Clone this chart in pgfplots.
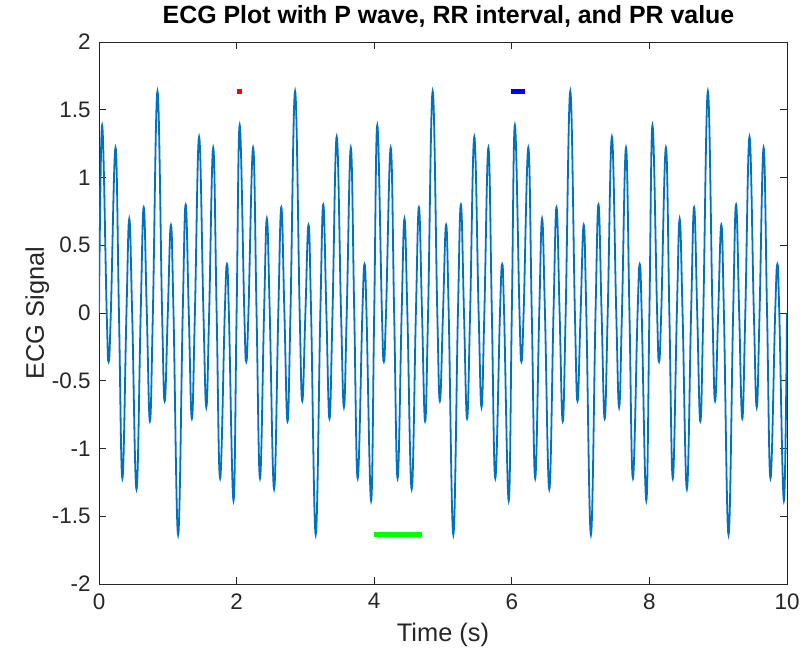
\documentclass[border=0pt]{standalone}
\usepackage{fontspec}
\setmainfont{Liberation Sans}
\usepackage{pgfplots}
\pgfplotsset{compat=1.18}
\usetikzlibrary{calc}
\definecolor{mlblue}{RGB}{0,114,189}
\definecolor{mlgray}{RGB}{38,38,38}

\begin{document}
\begin{tikzpicture}
\begin{axis}[
  name=ax,
  width=688bp, height=542bp, scale only axis,
  xmin=0, xmax=10, ymin=-2, ymax=2,
  xtick={0,2,4,6,8,10},
  ytick={-2,-1.5,-1,-0.5,0,0.5,1,1.5,2},
  tick align=inside, major tick length=7bp,
  axis line style={mlgray, line width=0.8bp},
  tick style={mlgray, line width=0.8bp},
  /pgf/number format/assume math mode=true,
  tick label style={font=\fontsize{22.5}{27}\selectfont, text=mlgray},
  yticklabel style={xshift=-5bp},
  xticklabel style={yshift=-6bp},
  title={ECG Plot with P wave, RR interval, and PR value},
  title style={font=\bfseries\fontsize{25}{30}\selectfont,
               at={(axis description cs:0.508,1.024)}, anchor=base},
  xlabel={Time (s)},
  xlabel style={font=\fontsize{25.5}{30}\selectfont, text=mlgray,
                at={(axis description cs:0.5,-0.107)}, anchor=base},
  ylabel={ECG Signal},
  ylabel style={font=\fontsize{25.5}{30}\selectfont, text=mlgray,
                at={(axis description cs:-0.08,0.5)}, anchor=base},
]
% signal: extrema and zero crossings, period of 2 s
\addplot[mlblue, line width=1.8bp, smooth, tension=0.7] coordinates {
 (0.000,0) (0.045,1.385) (0.112,0) (0.140,-0.36) (0.172,0) (0.240,1.22) (0.290,0) (0.340,-1.22)
 (0.399,0) (0.440,0.695) (0.482,0) (0.545,-1.30) (0.606,0) (0.650,0.78) (0.695,0) (0.740,-0.80)
 (0.783,0) (0.850,1.636) (0.917,0) (0.955,-0.65) (1.000,0) (1.045,0.65) (1.083,0) (1.150,-1.636)
 (1.217,0) (1.260,0.80) (1.305,0) (1.350,-0.78) (1.394,0) (1.455,1.30) (1.518,0) (1.560,-0.695)
 (1.601,0) (1.660,1.22) (1.710,0) (1.760,-1.22) (1.828,0) (1.860,0.36) (1.888,0) (1.955,-1.385)
 (2.000,0) (2.045,1.385) (2.112,0) (2.140,-0.36) (2.172,0) (2.240,1.22) (2.290,0) (2.340,-1.22)
 (2.399,0) (2.440,0.695) (2.482,0) (2.545,-1.30) (2.606,0) (2.650,0.78) (2.695,0) (2.740,-0.80)
 (2.783,0) (2.850,1.636) (2.917,0) (2.955,-0.65) (3.000,0) (3.045,0.65) (3.083,0) (3.150,-1.636)
 (3.217,0) (3.260,0.80) (3.305,0) (3.350,-0.78) (3.394,0) (3.455,1.30) (3.518,0) (3.560,-0.695)
 (3.601,0) (3.660,1.22) (3.710,0) (3.760,-1.22) (3.828,0) (3.860,0.36) (3.888,0) (3.955,-1.385)
 (4.000,0) (4.045,1.385) (4.112,0) (4.140,-0.36) (4.172,0) (4.240,1.22) (4.290,0) (4.340,-1.22)
 (4.399,0) (4.440,0.695) (4.482,0) (4.545,-1.30) (4.606,0) (4.650,0.78) (4.695,0) (4.740,-0.80)
 (4.783,0) (4.850,1.636) (4.917,0) (4.955,-0.65) (5.000,0) (5.045,0.65) (5.083,0) (5.150,-1.636)
 (5.217,0) (5.260,0.80) (5.305,0) (5.350,-0.78) (5.394,0) (5.455,1.30) (5.518,0) (5.560,-0.695)
 (5.601,0) (5.660,1.22) (5.710,0) (5.760,-1.22) (5.828,0) (5.860,0.36) (5.888,0) (5.955,-1.385)
 (6.000,0) (6.045,1.385) (6.112,0) (6.140,-0.36) (6.172,0) (6.240,1.22) (6.290,0) (6.340,-1.22)
 (6.399,0) (6.440,0.695) (6.482,0) (6.545,-1.30) (6.606,0) (6.650,0.78) (6.695,0) (6.740,-0.80)
 (6.783,0) (6.850,1.636) (6.917,0) (6.955,-0.65) (7.000,0) (7.045,0.65) (7.083,0) (7.150,-1.636)
 (7.217,0) (7.260,0.80) (7.305,0) (7.350,-0.78) (7.394,0) (7.455,1.30) (7.518,0) (7.560,-0.695)
 (7.601,0) (7.660,1.22) (7.710,0) (7.760,-1.22) (7.828,0) (7.860,0.36) (7.888,0) (7.955,-1.385)
 (8.000,0) (8.045,1.385) (8.112,0) (8.140,-0.36) (8.172,0) (8.240,1.22) (8.290,0) (8.340,-1.22)
 (8.399,0) (8.440,0.695) (8.482,0) (8.545,-1.30) (8.606,0) (8.650,0.78) (8.695,0) (8.740,-0.80)
 (8.783,0) (8.850,1.636) (8.917,0) (8.955,-0.65) (9.000,0) (9.045,0.65) (9.083,0) (9.150,-1.636)
 (9.217,0) (9.260,0.80) (9.305,0) (9.350,-0.78) (9.394,0) (9.455,1.30) (9.518,0) (9.560,-0.695)
 (9.601,0) (9.660,1.22) (9.710,0) (9.760,-1.22) (9.828,0) (9.860,0.36) (9.888,0) (9.955,-1.385)
 (10.000,0)
};
% P wave, PR value, RR interval marks
\addplot[red, line width=4.5bp, line cap=butt] coordinates {(2.00,1.636) (2.08,1.636)};
\addplot[blue, line width=4.5bp, line cap=butt] coordinates {(5.99,1.636) (6.19,1.636)};
\addplot[green, line width=4.5bp, line cap=butt] coordinates {(3.99,-1.636) (4.70,-1.636)};
\end{axis}
\pgfresetboundingbox
\path ($(ax.south west)+(-99bp,-71bp)$) rectangle ($(ax.north east)+(16bp,42bp)$);
\end{tikzpicture}
\end{document}
